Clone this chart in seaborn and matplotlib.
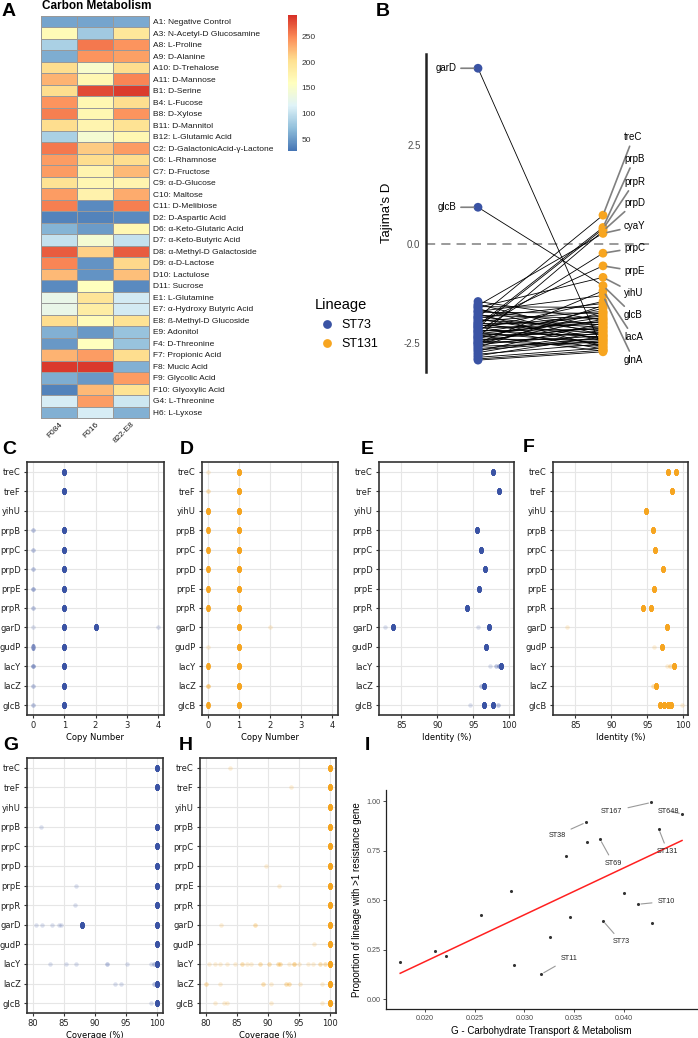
import numpy as np
import pandas as pd
import matplotlib
matplotlib.use("Agg")
import matplotlib.pyplot as plt
import seaborn as sns
from matplotlib.path import Path
from matplotlib.colors import LinearSegmentedColormap

# ----------------------------- data -----------------------------
CARBON_SOURCES = ["A1: Negative Control", "A3: N-Acetyl-D Glucosamine", "A8: L-Proline",
                  "A9: D-Alanine", "A10: D-Trehalose", "A11: D-Mannose", "B1: D-Serine",
                  "B4: L-Fucose", "B8: D-Xylose", "B11: D-Mannitol", "B12: L-Glutamic Acid",
                  "C2: D-GalactonicAcid-γ-Lactone", "C6: L-Rhamnose", "C7: D-Fructose",
                  "C9: α-D-Glucose", "C10: Maltose", "C11: D-Melibiose", "D2: D-Aspartic Acid",
                  "D6: α-Keto-Glutaric Acid", "D7: α-Keto-Butyric Acid", "D8: α-Methyl-D Galactoside",
                  "D9: α-D-Lactose", "D10: Lactulose", "D11: Sucrose", "E1: L-Glutamine",
                  "E7: α-Hydroxy Butyric Acid", "E8: ß-Methyl-D Glucoside", "E9: Adonitol",
                  "F4: D-Threonine", "F7: Propionic Acid", "F8: Mucic Acid", "F9: Glycolic Acid",
                  "F10: Glyoxylic Acid", "G4: L-Threonine", "H6: L-Lyxose"]
STRAINS = ["F084", "F016", "822-E8"]
F084 = [55, 168, 85, 60, 205, 228, 205, 245, 255, 205, 85, 258, 240, 240, 200, 240, 255, 35,
        65, 100, 272, 252, 225, 40, 128, 128, 205, 62, 48, 228, 288, 60, 35, 110, 62]
F016 = [55, 80, 258, 245, 150, 172, 280, 172, 172, 175, 145, 215, 205, 175, 172, 178, 40, 35,
        50, 145, 212, 45, 45, 160, 198, 185, 165, 48, 160, 240, 288, 48, 225, 240, 110]
E822 = [58, 195, 245, 238, 205, 252, 287, 205, 245, 200, 172, 240, 205, 225, 175, 232, 255, 40,
        172, 100, 272, 208, 222, 40, 108, 108, 200, 75, 75, 205, 62, 240, 200, 105, 62]

# Tajima's D per gene (ST73, ST131)
TAJ_GENES = ["garD", "glcB", "treC", "prpB", "prpR", "prpD", "cyaY", "prpC", "prpE", "yihU",
             "lacA", "glnA"] + [f"g{i}" for i in range(48)]
TAJ_ST73 = [4.44, 0.93, -1.85, -2.05, -2.10, -2.35, -1.55, -2.20, -2.00, -1.60, -2.50, -1.70,
            -1.45, -1.52, -1.58, -1.63, -1.68, -1.72, -1.76, -1.80, -1.83, -1.86, -1.89, -1.92,
            -1.95, -1.98, -2.01, -2.04, -2.07, -2.09, -2.12, -2.14, -2.17, -2.19, -2.22, -2.24,
            -2.26, -2.29, -2.31, -2.33, -2.36, -2.38, -2.40, -2.43, -2.45, -2.48, -2.50, -2.53,
            -2.55, -2.58, -2.61, -2.64, -2.67, -2.70, -2.74, -2.78, -2.82, -2.86, -2.90, -2.93]
TAJ_ST131 = [-2.68, -1.05, 0.73, 0.42, 0.38, 0.33, 0.27, -0.23, -0.55, -0.84, -1.18, -1.30,
             -1.92, -2.30, -1.60, -2.45, -2.05, -1.75, -2.60, -1.88, -2.20, -1.50, -2.40, -2.10,
             -1.70, -2.55, -1.98, -2.25, -1.82, -2.65, -2.02, -1.45, -2.35, -2.15, -1.78, -2.50,
             -1.95, -2.28, -2.70, -1.85, -2.12, -1.62, -2.42, -2.08, -2.58, -1.90, -2.32, -1.72,
             -2.18, -2.48, -1.55, -2.38, -2.44, -2.00, -2.22, -2.52, -2.33, -2.62, -2.68, -2.72]
B_RIGHT_LABELS = ["treC", "prpB", "prpR", "prpD", "cyaY", "prpC", "prpE", "yihU", "glcB", "lacA", "glnA"]
B_LEFT_LABELS = ["garD", "glcB"]

GENES = ["treC", "treF", "yihU", "prpB", "prpC", "prpD", "prpE", "prpR", "garD", "gudP",
         "lacY", "lacZ", "glcB"]

# (gene, value, number of genomes)
CN_ST73 = [("treC", 1, 40), ("treF", 1, 40), ("prpB", 0, 2), ("prpB", 1, 40), ("prpC", 0, 2),
           ("prpC", 1, 40), ("prpD", 0, 2), ("prpD", 1, 40), ("prpE", 0, 3), ("prpE", 1, 40),
           ("prpR", 0, 2), ("prpR", 1, 40), ("garD", 0, 1), ("garD", 1, 40), ("garD", 2, 40),
           ("garD", 4, 1), ("gudP", 0, 5), ("gudP", 1, 40), ("lacY", 0, 4), ("lacY", 1, 40),
           ("lacZ", 0, 2), ("lacZ", 1, 40), ("glcB", 0, 2), ("glcB", 1, 40)]
CN_ST131 = [("treC", 0, 1), ("treC", 1, 40), ("treF", 0, 2), ("treF", 1, 40), ("yihU", 0, 30),
            ("yihU", 1, 40), ("prpB", 0, 20), ("prpB", 1, 40), ("prpC", 0, 20), ("prpC", 1, 40),
            ("prpD", 0, 20), ("prpD", 1, 40), ("prpE", 0, 20), ("prpE", 1, 40), ("prpR", 0, 20),
            ("prpR", 1, 40), ("garD", 1, 40), ("garD", 2, 1), ("gudP", 0, 1), ("gudP", 1, 40),
            ("lacY", 0, 20), ("lacY", 1, 40), ("lacZ", 0, 4), ("lacZ", 1, 40), ("glcB", 0, 20),
            ("glcB", 1, 40)]
ID_ST73 = [("treC", 97.8, 40), ("treF", 98.5, 40), ("prpB", 95.5, 40), ("prpC", 96.1, 40),
           ("prpD", 96.6, 40), ("prpE", 95.8, 40), ("prpR", 94.1, 40), ("garD", 82.7, 1),
           ("garD", 83.9, 40), ("garD", 95.7, 1), ("garD", 97.2, 40), ("gudP", 96.8, 40),
           ("lacY", 97.3, 1), ("lacY", 98.2, 2), ("lacY", 98.5, 3), ("lacY", 98.9, 40),
           ("lacZ", 96.1, 2), ("lacZ", 96.5, 40), ("glcB", 94.6, 1), ("glcB", 96.5, 40),
           ("glcB", 97.8, 40), ("glcB", 98.4, 2)]
ID_ST131 = [("treC", 97.9, 40), ("treC", 99.0, 40), ("treF", 98.4, 40), ("yihU", 94.8, 40),
            ("prpB", 95.8, 40), ("prpC", 96.1, 40), ("prpD", 97.2, 40), ("prpE", 95.9, 40),
            ("prpR", 94.4, 40), ("prpR", 95.5, 40), ("garD", 83.9, 1), ("garD", 97.7, 40),
            ("gudP", 95.9, 1), ("gudP", 97.0, 40), ("lacY", 97.8, 1), ("lacY", 98.2, 2),
            ("lacY", 98.7, 40), ("lacZ", 95.8, 2), ("lacZ", 96.2, 40), ("glcB", 96.7, 40),
            ("glcB", 97.3, 40), ("glcB", 97.9, 40), ("glcB", 98.3, 40), ("glcB", 99.8, 1)]
COV_ST73 = [("treC", 100, 40), ("treF", 100, 40), ("prpB", 81.4, 1), ("prpB", 100, 40),
            ("prpC", 100, 40), ("prpD", 100, 40), ("prpE", 87.0, 1), ("prpE", 100, 40),
            ("prpR", 86.9, 1), ("prpR", 100, 40), ("garD", 80.5, 1), ("garD", 81.5, 1),
            ("garD", 83.2, 1), ("garD", 84.2, 1), ("garD", 84.6, 1), ("garD", 88.0, 40),
            ("garD", 100, 40), ("gudP", 100, 40), ("lacY", 82.8, 1), ("lacY", 85.3, 1),
            ("lacY", 87.0, 1), ("lacY", 92.0, 2), ("lacY", 95.2, 1), ("lacY", 99.0, 1),
            ("lacY", 99.5, 2), ("lacY", 100, 40), ("lacZ", 93.3, 1), ("lacZ", 94.2, 1),
            ("lacZ", 99.6, 2), ("lacZ", 100, 40), ("glcB", 99.0, 1), ("glcB", 100, 40)]
COV_ST131 = [("treC", 84.0, 1), ("treC", 100, 40), ("treF", 93.7, 1), ("treF", 100, 40),
             ("yihU", 100, 40), ("prpB", 100, 40), ("prpC", 100, 40), ("prpD", 89.8, 1),
             ("prpD", 100, 40), ("prpE", 91.9, 1), ("prpE", 100, 40), ("prpR", 100, 40),
             ("garD", 82.5, 1), ("garD", 88.0, 2), ("garD", 100, 40), ("gudP", 97.4, 1),
             ("gudP", 100, 40), ("lacY", 80.5, 1), ("lacY", 81.5, 1), ("lacY", 82.3, 1),
             ("lacY", 83.5, 1), ("lacY", 84.8, 1), ("lacY", 85.8, 2), ("lacY", 86.6, 1),
             ("lacY", 87.3, 1), ("lacY", 88.7, 2), ("lacY", 90.2, 2), ("lacY", 91.6, 2),
             ("lacY", 92.0, 2), ("lacY", 93.5, 1), ("lacY", 94.2, 3), ("lacY", 95.0, 1),
             ("lacY", 96.5, 1), ("lacY", 97.3, 1), ("lacY", 98.5, 2), ("lacY", 99.2, 2),
             ("lacY", 100, 40), ("lacZ", 80.1, 2), ("lacZ", 82.3, 1), ("lacZ", 89.2, 2),
             ("lacZ", 90.5, 1), ("lacZ", 93.0, 2), ("lacZ", 93.5, 2), ("lacZ", 95.2, 1),
             ("lacZ", 98.8, 1), ("lacZ", 100, 40), ("glcB", 81.5, 1), ("glcB", 82.9, 1),
             ("glcB", 83.4, 1), ("glcB", 90.5, 1), ("glcB", 98.8, 1), ("glcB", 100, 40)]

# Panel I
I_X = [0.01749, 0.02097, 0.02207, 0.02565, 0.02863, 0.02893, 0.03171, 0.03254, 0.03415,
       0.03465, 0.03619, 0.03629, 0.03763, 0.03793, 0.04003, 0.04147, 0.04278, 0.04291,
       0.04355, 0.04589]
I_Y = [0.187, 0.242, 0.217, 0.425, 0.548, 0.170, 0.126, 0.314, 0.724, 0.415, 0.892, 0.793,
       0.807, 0.395, 0.534, 0.479, 0.993, 0.383, 0.859, 0.936]
I_LABELS = ["ST167", "ST648", "ST38", "ST69", "ST131", "ST10", "ST73", "ST11"]
I_LABEL_POINT = [16, 19, 10, 12, 18, 15, 13, 6]

# ----------------------------- style -----------------------------
BLUE = "#3A53A4"
ORANGE = "#F7A520"
ARIAL = "Liberation Sans"
plt.rcParams["font.family"] = ["DejaVu Sans"]
W, H = 698, 1038
fig = plt.figure(figsize=(W / 100, H / 100), dpi=100)


def box(l, t, r, b):
    return [l / W, 1 - b / H, (r - l) / W, (b - t) / H]


def letter(x, y, s):
    fig.text(x / W, 1 - y / H, s, fontsize=14, fontweight="bold", family=ARIAL,
             ha="left", va="center")


# ----------------------------- A: heatmap -----------------------------
hm = pd.DataFrame({STRAINS[0]: F084, STRAINS[1]: F016, STRAINS[2]: E822}, index=CARBON_SOURCES)
phm = LinearSegmentedColormap.from_list(
    "phm", ["#4575B4", "#91BFDB", "#E0F3F8", "#FFFFBF", "#FEE090", "#FC8D59", "#D73027"])
axA = fig.add_axes(box(41, 16, 149, 418))
caxA = fig.add_axes(box(288, 15, 297, 151))
sns.heatmap(hm, ax=axA, cbar_ax=caxA, cmap=phm, vmin=26.5, vmax=293, linewidths=0.6,
            linecolor="#999999", yticklabels=True, xticklabels=True)
axA.collections[0].set_clip_on(False)
axA.yaxis.tick_right()
axA.tick_params(axis="y", length=0, pad=3, rotation=0)
axA.tick_params(axis="x", length=0, pad=2)
axA.set_yticklabels(CARBON_SOURCES, fontsize=6, family=ARIAL, color="#1a1a1a")
axA.set_xticklabels(STRAINS, fontsize=6, family=ARIAL, rotation=45, ha="right",
                    rotation_mode="anchor", color="#1a1a1a")
axA.set_xlabel("")
axA.set_ylabel("")
cbar = axA.collections[0].colorbar
cbar.outline.set_visible(False)
cbar.set_ticks([50, 100, 150, 200, 250])
caxA.tick_params(length=0, labelsize=6, pad=3, labelcolor="#333333")
for t in caxA.get_yticklabels():
    t.set_family(ARIAL)
fig.text(42 / W, 1 - 6 / H, "Carbon Metabolism", fontsize=8.5, fontweight="bold",
         family=ARIAL, ha="left", va="center")
letter(2, 12, "A")

# ----------------------------- B: Tajima's D -----------------------------
axB = fig.add_axes(box(426, 54, 652, 372))
rows = []
for g, a, b in zip(TAJ_GENES, TAJ_ST73, TAJ_ST131):
    rows.append((g, "ST73", 0, a))
    rows.append((g, "ST131", 1, b))
dfB = pd.DataFrame(rows, columns=["gene", "Lineage", "pos", "D"])
axB.axhline(0, ls=(0, (6, 4)), color="#7f7f7f", lw=1.1, zorder=1)
sns.lineplot(data=dfB, x="pos", y="D", units="gene", estimator=None, color="black",
             lw=0.6, ax=axB, legend=False, sort=False, zorder=2)
sns.scatterplot(data=dfB, x="pos", y="D", hue="Lineage",
                palette={"ST73": BLUE, "ST131": ORANGE}, s=40, edgecolor="none",
                ax=axB, zorder=3)
axB.set_xlim(-0.416, 1.392)
axB.set_ylim(-3.23, 4.80)
for sp in ["top", "right", "bottom"]:
    axB.spines[sp].set_visible(False)
axB.spines["left"].set_linewidth(1.8)
axB.spines["left"].set_color("#222222")
axB.set_xticks([])
axB.set_yticks([-2.5, 0, 2.5])
axB.set_yticklabels(["-2.5", "0.0", "2.5"], family=ARIAL, fontsize=7, color="#4D4D4D")
axB.tick_params(axis="y", length=0, pad=4)
axB.set_xlabel("")
axB.set_ylabel("Tajima's D", family=ARIAL, fontsize=9.5, labelpad=8)
gD73 = dict(zip(TAJ_GENES, TAJ_ST73))
gD131 = dict(zip(TAJ_GENES, TAJ_ST131))
label_y = [2.70, 2.15, 1.57, 1.04, 0.45, -0.10, -0.68, -1.24, -1.79, -2.35, -2.93]
for name, ty in zip(B_RIGHT_LABELS, label_y):
    axB.annotate(name, xy=(1, gD131[name]), xytext=(1.168, ty), ha="left", va="center",
                 fontsize=7, family=ARIAL, annotation_clip=False,
                 arrowprops=dict(arrowstyle="-", color="#808080", lw=1.2, shrinkA=1, shrinkB=3))
for name in B_LEFT_LABELS:
    axB.annotate(name, xy=(0, gD73[name]), xytext=(-0.17, gD73[name]), ha="right", va="center",
                 fontsize=7, family=ARIAL, annotation_clip=False,
                 arrowprops=dict(arrowstyle="-", color="#808080", lw=1.2, shrinkA=1, shrinkB=3))
h, l = axB.get_legend_handles_labels()
axB.get_legend().remove()
leg = fig.legend(h, l, title="Lineage", loc="upper left", bbox_to_anchor=(303 / W, 1 - 287 / H),
                 frameon=False, prop=dict(family=ARIAL, size=9),
                 title_fontproperties=dict(family=ARIAL, size=10.5),
                 handletextpad=0.2, labelspacing=0.55)
leg._legend_box.align = "left"
letter(376, 12, "B")

# ----------------------------- C-H: strip plots -----------------------------
theta = np.linspace(0, 2 * np.pi, 41)
ELLIPSE = Path(np.column_stack([0.6 * np.cos(theta), np.sin(theta)]), closed=True)


def strip_panel(rect, records, color, xlabel, xticks, xlim):
    ax = fig.add_axes(rect)
    big = pd.DataFrame([(g, v) for g, v, n in records if n >= 5 for _ in range(n)],
                       columns=["gene", "value"])
    small = pd.DataFrame([(g, v) for g, v, n in records if n < 5 for _ in range(n)],
                         columns=["gene", "value"])
    if len(small):
        sns.stripplot(data=small, x="value", y="gene", order=GENES, orient="h", jitter=False,
                      color=color, alpha=0.18, size=3.2, linewidth=0, ax=ax)
    if len(big):
        sns.stripplot(data=big, x="value", y="gene", order=GENES, orient="h", jitter=False,
                      color=color, alpha=0.18, size=5, linewidth=0, marker=ELLIPSE, ax=ax)
    ax.set_xlim(*xlim)
    ax.set_ylim(len(GENES) - 0.5, -0.5)
    ax.set_xticks(xticks)
    ax.grid(True, color="#E6E6E6", lw=0.8)
    ax.set_axisbelow(True)
    for sp in ax.spines.values():
        sp.set_visible(True)
        sp.set_color("#333333")
        sp.set_linewidth(1.2)
    ax.tick_params(labelsize=6, length=2.5, width=0.8, color="#333333", pad=2,
                   labelcolor="#222222")
    ax.set_ylabel("")
    ax.set_xlabel(xlabel, fontsize=6, labelpad=2)
    return ax


strip_panel(box(27, 462, 164, 715), CN_ST73, BLUE, "Copy Number", [0, 1, 2, 3, 4], (-0.2, 4.2))
strip_panel(box(202, 462, 338, 715), CN_ST131, ORANGE, "Copy Number", [0, 1, 2, 3, 4], (-0.2, 4.2))
strip_panel(box(379, 462, 514, 715), ID_ST73, BLUE, "Identity (%)", [85, 90, 95, 100], (81.9, 100.65))
strip_panel(box(553, 462, 688, 715), ID_ST131, ORANGE, "Identity (%)", [85, 90, 95, 100], (81.9, 100.65))
strip_panel(box(27, 758, 163, 1013), COV_ST73, BLUE, "Coverage (%)", [80, 85, 90, 95, 100], (79.1, 101.0))
strip_panel(box(200, 758, 336, 1013), COV_ST131, ORANGE, "Coverage (%)", [80, 85, 90, 95, 100], (79.1, 101.0))
letter(2, 450, "C")
letter(180, 450, "D")
letter(361, 449, "E")
letter(523, 448, "F")
letter(3, 745, "G")
letter(179, 745, "H")
letter(365, 745, "I")

# ----------------------------- I: scatter + regression -----------------------------
axI = fig.add_axes(box(386, 790, 697, 1009))
dfI = pd.DataFrame({"x": I_X, "y": I_Y})
sns.regplot(data=dfI, x="x", y="y", ci=None, ax=axI,
            scatter_kws=dict(s=5, color="black", linewidths=0),
            line_kws=dict(color="#FF2020", lw=1.1))
axI.set_xlim(0.01606, 0.0474)
axI.set_ylim(-0.05, 1.056)
axI.set_xticks([0.020, 0.025, 0.030, 0.035, 0.040])
axI.set_xticklabels(["0.020", "0.025", "0.030", "0.035", "0.040"])
axI.set_yticks([0, 0.25, 0.5, 0.75, 1.0])
axI.set_yticklabels(["0.00", "0.25", "0.50", "0.75", "1.00"])
for t in axI.get_xticklabels() + axI.get_yticklabels():
    t.set_family(ARIAL)
    t.set_fontsize(5.2)
    t.set_color("#4D4D4D")
axI.tick_params(length=2, width=0.6, color="#333333", pad=2)
for sp in ["top", "right"]:
    axI.spines[sp].set_visible(False)
for sp in ["left", "bottom"]:
    axI.spines[sp].set_linewidth(0.9)
    axI.spines[sp].set_color("#222222")
axI.set_xlabel("G - Carbohydrate Transport & Metabolism", family=ARIAL, fontsize=7, labelpad=3)
axI.set_ylabel("Proportion of lineage with >1 resistance gene", family=ARIAL, fontsize=7, labelpad=3)
I_TEXT_X = [0.03882, 0.04455, 0.03330, 0.03899, 0.04445, 0.04429, 0.03977, 0.03447]
I_TEXT_Y = [0.948, 0.948, 0.827, 0.684, 0.743, 0.493, 0.289, 0.205]
for name, idx, tx, ty in zip(I_LABELS, I_LABEL_POINT, I_TEXT_X, I_TEXT_Y):
    axI.annotate(name, xy=(I_X[idx], I_Y[idx]), xytext=(tx, ty), ha="center", va="center",
                 fontsize=5.2, family=ARIAL, color="#222222", annotation_clip=False,
                 arrowprops=dict(arrowstyle="-", color="#9a9a9a", lw=0.8, shrinkA=2, shrinkB=2))

fig.savefig("out.png", dpi=100)
